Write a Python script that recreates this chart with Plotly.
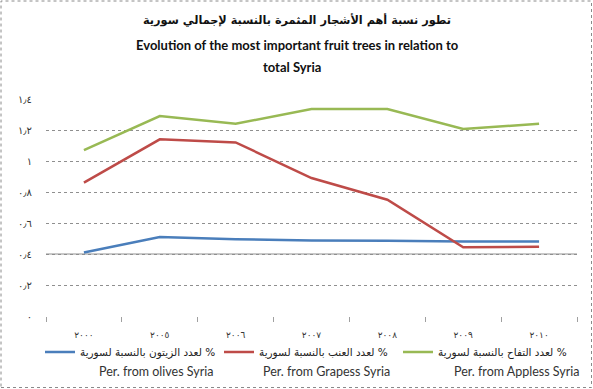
import plotly.graph_objects as go

years = ["٢٠٠٠", "٢٠٠٥", "٢٠٠٦", "٢٠٠٧", "٢٠٠٨", "٢٠٠٩", "٢٠١٠"]
olives = [0.41, 0.51, 0.495, 0.487, 0.485, 0.48, 0.48]
grapes = [0.86, 1.14, 1.12, 0.89, 0.75, 0.443, 0.447]
apples = [1.07, 1.29, 1.24, 1.335, 1.335, 1.206, 1.24]

ytick_vals = [0, 0.2, 0.4, 0.6, 0.8, 1.0, 1.2, 1.4]
ytick_text = ["٠", "٠٫٢", "٠٫٤", "٠٫٦", "٠٫٨", "١", "١٫٢", "١٫٤"]
solid_ref = 0.4

names_ar = ["لعدد الزيتون بالنسبة لسورية %",
            "لعدد العنب بالنسبة لسورية %",
            "لعدد التفاح بالنسبة لسورية %"]
names_en = ["Per. from olives Syria", "Per. from Grapess Syria", "Per. from Appless Syria"]
colors = ["#4a7ebb", "#be4b48", "#98b954"]

title_ar = "تطور نسبة أهم الأشجار المثمرة بالنسبة لإجمالي سورية"
title_en1 = "Evolution of the most important fruit trees in relation to"
title_en2 = "total Syria"

W, H = 593, 389
L, R, T, B = 46, 16, 99, 73
pw, ph = W - L - R, H - T - B

def px(x):
    return (x - L) / pw

def py(y):
    return (H - B - y) / ph

fig = go.Figure()
for vals, nm, c in zip([olives, grapes, apples], names_ar, colors):
    fig.add_trace(go.Scatter(x=years, y=vals, mode="lines", name=nm,
                             line=dict(color=c, width=2.5)))

fig.update_layout(
    width=W, height=H,
    margin=dict(l=L, r=R, t=T, b=B, autoexpand=False),
    paper_bgcolor="white", plot_bgcolor="white",
    font=dict(family="DejaVu Sans", color="#333"),
    showlegend=True,
    legend=dict(orientation="h", x=px(40), y=py(352), xanchor="left", yanchor="middle",
                entrywidth=134, entrywidthmode="pixels",
                font=dict(family="DejaVu Sans", size=10.5, color="#222"),
                bgcolor="rgba(0,0,0,0)", traceorder="normal"),
    xaxis=dict(type="category", showgrid=False, showline=False, zeroline=False,
               ticks="outside", ticklen=5, tickcolor="#a0a0a0", tickson="boundaries",
               tickfont=dict(size=9, color="#333"), ticklabelstandoff=12,
               range=[-0.5, 6.5]),
    yaxis=dict(range=[0, 1.4], tickvals=ytick_vals, ticktext=ytick_text,
               showgrid=True, gridcolor="#8f8f8f", griddash="dot", gridwidth=1,
               zeroline=False, showline=False, ticks="",
               tickfont=dict(size=10, color="#333"), ticklabelstandoff=13),
)

fig.add_shape(type="line", xref="paper", x0=0, x1=1, yref="y", y0=solid_ref, y1=solid_ref,
              line=dict(color="#c8c8c8", width=2), layer="below")
fig.add_shape(type="rect", xref="paper", yref="paper",
              x0=px(1), x1=px(591.5), y0=py(387.5), y1=py(1),
              line=dict(color="#8a8a8a", width=1, dash="dot"))

fig.add_annotation(text="<b>" + title_ar + "</b>", xref="paper", yref="paper",
                   x=px(297), y=py(20), showarrow=False, xanchor="center", yanchor="middle",
                   font=dict(family="DejaVu Sans", size=11.3, color="#111"))
fig.add_annotation(text="<b>" + title_en1 + "</b>", xref="paper", yref="paper",
                   x=px(297), y=py(45), showarrow=False, xanchor="center", yanchor="middle",
                   font=dict(family="Lato", size=13, color="#111"))
fig.add_annotation(text="<b>" + title_en2 + "</b>", xref="paper", yref="paper",
                   x=px(292), y=py(67), showarrow=False, xanchor="center", yanchor="middle",
                   font=dict(family="Lato", size=13, color="#111"))

for nm, xr in zip(names_en, [215, 392, 582]):
    fig.add_annotation(text=nm, xref="paper", yref="paper", x=px(xr), y=py(371),
                       xanchor="right", yanchor="middle", showarrow=False,
                       font=dict(family="Lato", size=12.5, color="#333"))

fig.write_html("out.html", config={"displayModeBar": False},
               post_script="document.body.style.margin='0px';")
